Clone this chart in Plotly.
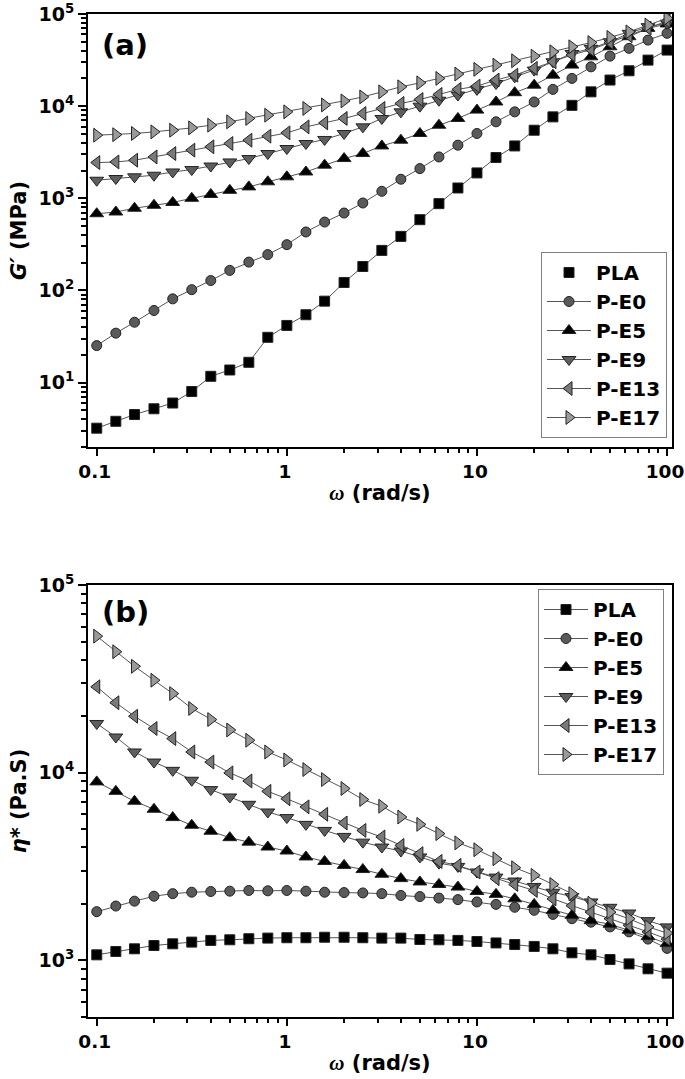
import plotly.graph_objects as go
from plotly.subplots import make_subplots

omega = [0.1, 0.126, 0.158, 0.2, 0.251, 0.316, 0.398, 0.501, 0.631, 0.794,
         1.0, 1.26, 1.58, 2.0, 2.51, 3.16, 3.98, 5.01, 6.31, 7.94,
         10.0, 12.6, 15.8, 20.0, 25.1, 31.6, 39.8, 50.1, 63.1, 79.4, 100.0]

series_names = ["PLA", "P-E0", "P-E5", "P-E9", "P-E13", "P-E17"]

g_pla = [3.2, 3.8, 4.5, 5.2, 6.0, 8.0, 11.7, 13.7, 16.6, 31, 41.7, 54.5, 76.5, 122, 182, 272,
         386, 586, 875, 1294, 1885, 2770, 3700, 5480, 7650, 10200, 14300, 19200, 24200, 31600, 40600]
g_pe0 = [25.2, 34.4, 45.2, 60.6, 81, 102, 128, 165, 203, 245, 314, 431, 552, 692, 889, 1190,
         1610, 2100, 2810, 3770, 5050, 6760, 8670, 11100, 15200, 20000, 26700, 34900, 42400, 52100, 61700]
g_pe5 = [680, 710, 780, 840, 900, 1000, 1100, 1220, 1330, 1510, 1710, 1930, 2290, 2700, 3060, 3700,
         4270, 5050, 6210, 7350, 9060, 11100, 14000, 16900, 21700, 27900, 34300, 44100, 56700, 69800, 78000]
g_pe9 = [1570, 1640, 1710, 1780, 1930, 2050, 2240, 2480, 2700, 3060, 3470, 3930, 4350, 5050, 5960, 7350,
         8670, 10000, 11600, 13200, 15200, 17600, 20800, 24600, 30300, 37300, 42400, 50000, 61700, 72800, 79300]
g_pe13 = [2440, 2480, 2590, 2810, 3060, 3330, 3620, 3930, 4270, 4720, 5130, 5960, 6580, 7350, 8320, 9440,
          10700, 11800, 13400, 15200, 16500, 19200, 21700, 25700, 30300, 36000, 41000, 49000, 58000, 70000, 84000]
g_pe17 = [4840, 4900, 5050, 5260, 5480, 5810, 6210, 6760, 7350, 7980, 8670, 9440, 10300, 11400, 12600, 14300,
          16200, 17900, 20000, 22300, 25100, 27900, 31100, 34900, 38900, 44100, 49000, 55700, 64000, 75900, 89700]

eta_pla = [1072, 1117, 1154, 1202, 1227, 1253, 1279, 1289, 1306, 1316, 1322, 1322, 1330, 1330, 1322, 1316,
           1316, 1294, 1289, 1279, 1262, 1240, 1216, 1188, 1154, 1099, 1072, 1012, 959, 903, 856]
eta_pe0 = [1820, 1950, 2070, 2200, 2270, 2310, 2330, 2340, 2360, 2350, 2360, 2340, 2310, 2300, 2290, 2270,
           2220, 2190, 2150, 2110, 2050, 1990, 1920, 1850, 1760, 1670, 1600, 1510, 1420, 1300, 1160]
eta_pe5 = [8940, 7960, 7050, 6390, 5770, 5250, 4880, 4510, 4270, 4020, 3830, 3560, 3370, 3210, 3050, 2880,
           2730, 2620, 2540, 2460, 2330, 2250, 2130, 1990, 1850, 1740, 1630, 1560, 1450, 1340, 1230]
eta_pe9 = [18300, 15500, 12900, 11400, 10300, 9120, 8130, 7430, 6790, 6180, 5770, 5310, 4930, 4580, 4270, 4020,
           3830, 3560, 3300, 3170, 2960, 2780, 2650, 2480, 2310, 2190, 2050, 1920, 1790, 1630, 1510]
eta_pe13 = [28700, 23600, 20000, 17200, 15200, 12900, 11400, 9980, 9040, 7960, 7270, 6580, 6010, 5400, 4930, 4550,
            4100, 3710, 3370, 3210, 2960, 2730, 2540, 2360, 2130, 1960, 1810, 1670, 1540, 1420, 1300]
eta_pe17 = [53400, 44100, 36900, 31100, 26400, 22000, 19200, 16900, 14900, 12900, 11700, 10400, 9200, 8240, 7200, 6630,
            5810, 5310, 4740, 4230, 3890, 3480, 3120, 2840, 2540, 2270, 2020, 1810, 1670, 1510, 1400]

x_tick_vals = [0.1, 1, 10, 100]
x_tick_text = ["0.1", "1", "10", "100"]
top_y_vals = [10, 100, 1000, 10000, 100000]
top_y_text = ["10<sup>1</sup>", "10<sup>2</sup>", "10<sup>3</sup>", "10<sup>4</sup>", "10<sup>5</sup>"]
bot_y_vals = [1000, 10000, 100000]
bot_y_text = ["10<sup>3</sup>", "10<sup>4</sup>", "10<sup>5</sup>"]

symbols = ["square", "circle", "triangle-up", "triangle-down", "triangle-left", "triangle-right"]
fills = ["#000000", "#5a5a5a", "#000000", "#5e5e5e", "#7a7a7a", "#9a9a9a"]
sizes = [10, 10, 12, 12, 12, 12]

FONT = "DejaVu Sans"
fig = make_subplots(rows=2, cols=1)

g_data = [g_pla, g_pe0, g_pe5, g_pe9, g_pe13, g_pe17]
eta_data = [eta_pla, eta_pe0, eta_pe5, eta_pe9, eta_pe13, eta_pe17]

line_style = dict(color="#555555", width=1)

for i, name in enumerate(series_names):
    mk = dict(symbol=symbols[i], size=sizes[i], color=fills[i],
              line=dict(color="#222222", width=1))
    if name == "PLA":
        fig.add_trace(go.Scatter(x=omega, y=g_data[i], mode="lines", line=line_style,
                                 showlegend=False, hoverinfo="skip"), row=1, col=1)
        fig.add_trace(go.Scatter(x=omega, y=g_data[i], mode="markers", marker=mk, name=name,
                                 legend="legend"), row=1, col=1)
    else:
        fig.add_trace(go.Scatter(x=omega, y=g_data[i], mode="lines+markers", line=line_style,
                                 marker=mk, name=name, legend="legend"), row=1, col=1)
    fig.add_trace(go.Scatter(x=omega, y=eta_data[i], mode="lines+markers", line=line_style,
                             marker=mk, name=name, legend="legend2"), row=2, col=1)

W, H = 685, 1079
L_px, R_px, T_px, B_px = 88, 672, 14, 1017
ml, mr, mt, mb = L_px, W - R_px, T_px, H - B_px
ph = H - mt - mb
pw = W - ml - mr


def py(y_px):
    return (B_px - y_px) / ph


def px(x_px):
    return (x_px - L_px) / pw


top_lo = py(447)
bot_hi = py(585)

minor_x = [m * 10 ** e for e in range(-1, 2) for m in range(2, 10)]
minor_top = [m * 10 ** e for e in range(0, 5) for m in range(2, 10)]
minor_bot = [m * 10 ** e for e in range(2, 5) for m in range(5 if e == 2 else 2, 10)]

xtickfont = dict(family=FONT, size=18.5, color="black", weight="bold")
ytickfont = dict(family=FONT, size=19, color="black", weight="bold")
titlefont = dict(family=FONT, size=21, color="black", weight="bold")
x_title = "<span style=\"font-family:'Liberation Serif'\"><i>ω</i></span> (rad/s)"

common_x = dict(type="log", range=[-1.046, 2.026], showline=True, linecolor="black", linewidth=2,
                mirror=True, ticks="outside", ticklen=7, tickwidth=1.5, tickcolor="black",
                tickmode="array", tickvals=x_tick_vals, ticktext=x_tick_text, tickfont=xtickfont,
                ticklabeloverflow="allow", ticklabelshift=-2, automargin=False,
                showgrid=False, zeroline=False,
                minor=dict(tickmode="array", tickvals=minor_x, ticks="outside", ticklen=4,
                           tickwidth=1.5, tickcolor="black", showgrid=False),
                title=dict(text=x_title, font=titlefont, standoff=4))
fig.update_xaxes(**common_x)

common_y = dict(type="log", showline=True, linecolor="black", linewidth=2, mirror=True,
                ticks="outside", ticklen=8, tickwidth=1.5, tickcolor="black", automargin=False,
                ticklabeloverflow="allow",
                tickmode="array", tickfont=ytickfont, showgrid=False, zeroline=False)
fig.update_yaxes(**common_y)
fig.update_yaxes(range=[0.301, 5.0], domain=[top_lo, 1.0], tickvals=top_y_vals, ticktext=top_y_text,
                 minor=dict(tickmode="array", tickvals=minor_top, ticks="outside", ticklen=5,
                            tickwidth=1.5, tickcolor="black", showgrid=False),
                 title=dict(text="<i>G′</i> (MPa)", font=titlefont, standoff=6), row=1, col=1)
fig.update_yaxes(range=[2.699, 5.0], domain=[0.0, bot_hi], tickvals=bot_y_vals, ticktext=bot_y_text,
                 minor=dict(tickmode="array", tickvals=minor_bot, ticks="outside", ticklen=5,
                            tickwidth=1.5, tickcolor="black", showgrid=False),
                 title=dict(text="<i>η</i>* (Pa.S)", font=titlefont, standoff=6), row=2, col=1)

legend_common = dict(font=dict(family=FONT, size=20, color="black", weight="bold"),
                     bordercolor="#808080", borderwidth=1, bgcolor="white",
                     xref="paper", yref="paper", xanchor="right", tracegroupgap=0,
                     itemwidth=44)
fig.update_layout(
    width=W, height=H,
    margin=dict(l=ml, r=mr, t=mt, b=mb, autoexpand=False),
    paper_bgcolor="white", plot_bgcolor="white",
    legend=dict(**legend_common, x=px(667), y=py(438), yanchor="bottom"),
    legend2=dict(**legend_common, x=px(664), y=py(589), yanchor="top"),
    annotations=[
        dict(text="(a)", xref="paper", yref="paper", x=px(100), y=py(45),
             xanchor="left", yanchor="middle", showarrow=False,
             font=dict(family=FONT, size=29, color="black", weight="bold")),
        dict(text="(b)", xref="paper", yref="paper", x=px(100), y=py(612),
             xanchor="left", yanchor="middle", showarrow=False,
             font=dict(family=FONT, size=29, color="black", weight="bold")),
    ],
)

fig.write_html("out.html", config={"displayModeBar": False},
               post_script="document.body.style.margin='0';document.body.style.padding='0';")
